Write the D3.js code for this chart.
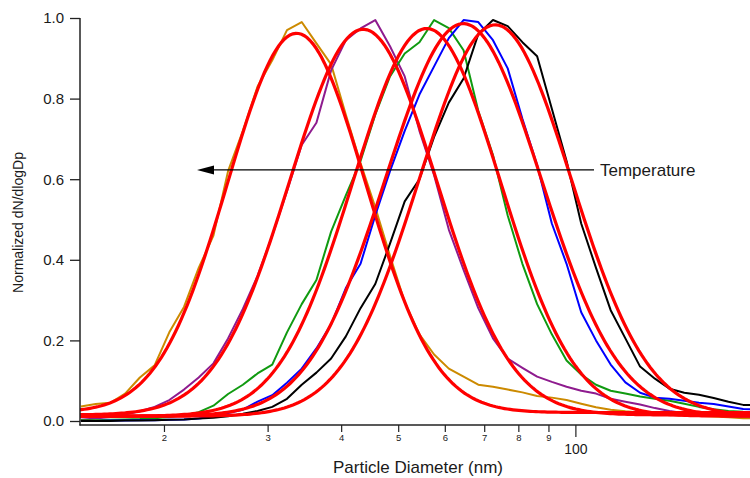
<!DOCTYPE html>
<html>
<head>
<meta charset="utf-8">
<script src="https://cdn.jsdelivr.net/npm/d3@7"></script>
<style>
  body { margin: 0; background: #fff; }
  text { font-family: "Liberation Sans", Arial, sans-serif; fill: #1a1a1a; }
</style>
</head>
<body>
<svg id="chart" width="750" height="478"></svg>
<script>
// size bins (nm), shared by all scans
const diameters = [14.45, 15.31, 16.22, 17.18, 18.20, 19.28, 20.42, 21.63, 22.91, 24.27,
  25.70, 27.23, 28.84, 30.55, 32.36, 34.28, 36.31, 38.46, 40.74, 43.15,
  45.71, 48.42, 51.29, 54.33, 57.54, 60.95, 64.57, 68.39, 72.44, 76.74,
  81.28, 86.10, 91.20, 96.61, 102.3, 108.4, 114.8, 121.6, 128.8, 136.5,
  144.5, 153.1, 162.2, 171.8, 182.0, 192.8, 204.2]

// measured, normalized dN/dlogDp
const scanOrange = [0.036, 0.042, 0.045, 0.068, 0.108, 0.138, 0.22, 0.283, 0.38, 0.46,
  0.62, 0.72, 0.83, 0.895, 0.97, 0.99, 0.937, 0.885, 0.76, 0.64,
  0.53, 0.41, 0.295, 0.215, 0.165, 0.13, 0.11, 0.09, 0.085, 0.078,
  0.071, 0.062, 0.058, 0.052, 0.043, 0.034, 0.028, 0.024, 0.021, 0.018,
  0.017, 0.015, 0.013, 0.011, 0.009, 0.007, 0.007]
const scanPurple = [0.003, 0.006, 0.010, 0.016, 0.024, 0.035, 0.052, 0.078, 0.108, 0.143,
  0.205, 0.278, 0.36, 0.46, 0.57, 0.685, 0.74, 0.87, 0.945, 0.974,
  0.995, 0.93, 0.855, 0.72, 0.61, 0.475, 0.375, 0.28, 0.205, 0.155,
  0.132, 0.11, 0.097, 0.085, 0.075, 0.068, 0.055, 0.048, 0.041, 0.032,
  0.025, 0.019, 0.015, 0.014, 0.012, 0.011, 0.011]
const scanGreen = [0.002, 0.002, 0.003, 0.004, 0.005, 0.007, 0.010, 0.014, 0.022, 0.038,
  0.067, 0.09, 0.118, 0.14, 0.22, 0.29, 0.35, 0.47, 0.56, 0.645,
  0.76, 0.855, 0.912, 0.94, 0.995, 0.975, 0.92, 0.77, 0.66, 0.51,
  0.39, 0.29, 0.215, 0.15, 0.115, 0.09, 0.075, 0.068, 0.061, 0.055,
  0.05, 0.043, 0.035, 0.029, 0.025, 0.023, 0.022]
const scanBlue = [0.0, 0.0, 0.001, 0.001, 0.002, 0.002, 0.003, 0.004, 0.006, 0.011,
  0.02, 0.028, 0.048, 0.064, 0.095, 0.13, 0.18, 0.24, 0.33, 0.39,
  0.51, 0.62, 0.72, 0.81, 0.88, 0.95, 0.995, 0.99, 0.945, 0.875,
  0.75, 0.635, 0.49, 0.39, 0.27, 0.2, 0.14, 0.096, 0.07, 0.058,
  0.055, 0.05, 0.045, 0.042, 0.036, 0.03, 0.028]
const scanBlack = [0.0, 0.0, 0.0, 0.001, 0.001, 0.002, 0.003, 0.004, 0.006, 0.008,
  0.012, 0.018, 0.025, 0.035, 0.055, 0.09, 0.12, 0.155, 0.21, 0.28,
  0.34, 0.44, 0.545, 0.6, 0.705, 0.79, 0.85, 0.96, 0.995, 0.98,
  0.94, 0.905, 0.775, 0.645, 0.49, 0.38, 0.275, 0.205, 0.135, 0.105,
  0.08, 0.07, 0.065, 0.057, 0.048, 0.04, 0.04]

const scanColors = ['#cc8a00', '#8e1b8e', '#109a10', '#0000ff', '#000000']

// lognormal fits: mode (nm), width (decades), height, offset
const fitMode = [33.6, 43.6, 55.9, 64.5, 73.1]
const fitWidth = [0.117, 0.125, 0.125, 0.132, 0.129]
const fitHeight = [0.941, 0.957, 0.962, 0.974, 0.971]
const fitBase = [0.021, 0.015, 0.012, 0.012, 0.012]

const xTicks = [20, 30, 40, 50, 60, 70, 80, 90, 100]
const yTicks = [0, 0.2, 0.4, 0.6, 0.8, 1.0]

const svg = d3.select('#chart')

const plotLeft = 80
const plotRight = 750
const plotTop = 18
const zeroY = 421
const axisY = 425

const x = d3.scaleLog().domain([14.4, 198]).range([plotLeft, plotRight])
const y = d3.scaleLinear().domain([0, 1]).range([zeroY, plotTop])

svg.append('defs')
  .append('clipPath')
  .attr('id', 'plot')
  .append('rect')
  .attr('x', plotLeft)
  .attr('y', 0)
  .attr('width', plotRight - plotLeft)
  .attr('height', axisY)

const line = d3.line()
  .x(d => x(d[0]))
  .y(d => y(d[1]))

const plot = svg.append('g').attr('clip-path', 'url(#plot)')

const scans = [scanOrange, scanPurple, scanGreen, scanBlue, scanBlack]

scans.forEach((s, i) => {
  plot.append('path')
    .datum(diameters.map((d, j) => [d, s[j]]))
    .attr('fill', 'none')
    .attr('stroke', scanColors[i])
    .attr('stroke-width', 2)
    .attr('stroke-linejoin', 'round')
    .attr('d', line)
})

// fitted curves
const fine = d3.range(0, 241).map(k => Math.pow(10, Math.log10(14) + k * (Math.log10(205) - Math.log10(14)) / 240))

fitMode.forEach((m, i) => {
  const pts = fine.map(d => {
    const z = (Math.log10(d) - Math.log10(m)) / fitWidth[i]
    return [d, fitBase[i] + fitHeight[i] * Math.exp(-0.5 * z * z)]
  })
  plot.append('path')
    .datum(pts)
    .attr('fill', 'none')
    .attr('stroke', '#ff0000')
    .attr('stroke-width', 3.2)
    .attr('d', line)
})

// axes
const yAxis = svg.append('g')
  .attr('transform', `translate(${plotLeft},0)`)
  .call(d3.axisLeft(y).tickValues(yTicks).tickFormat(d3.format('.1f')).tickSize(10).tickSizeOuter(0).tickPadding(6))
yAxis.select('.domain').remove()
yAxis.selectAll('text').style('font-size', '15px')
yAxis.selectAll('line').attr('stroke', '#222').attr('stroke-width', 1.3)

const xAxis = svg.append('g')
  .attr('transform', `translate(0,${axisY})`)
  .call(d3.axisBottom(x).tickValues(xTicks).tickFormat(d => d === 100 ? '100' : d / 10).tickSize(7).tickSizeOuter(0).tickPadding(2))
xAxis.select('.domain').remove()
xAxis.selectAll('line').attr('stroke', '#222').attr('stroke-width', 1.2)
xAxis.selectAll('text').style('font-size', '9.5px')
xAxis.selectAll('.tick').filter(d => d === 100).select('line').attr('y2', 12)
xAxis.selectAll('.tick').filter(d => d === 100).select('text')
  .attr('y', 19)
  .style('font-size', '14px')

svg.append('line')
  .attr('x1', plotLeft).attr('x2', plotLeft)
  .attr('y1', plotTop).attr('y2', axisY + 0.5)
  .attr('stroke', '#222').attr('stroke-width', 1.5)
svg.append('line')
  .attr('x1', plotLeft - 0.5).attr('x2', plotRight)
  .attr('y1', axisY).attr('y2', axisY)
  .attr('stroke', '#222').attr('stroke-width', 1.5)

// axis titles
svg.append('text')
  .attr('transform', `translate(23,${(plotTop + axisY) / 2 + 1}) rotate(-90)`)
  .attr('text-anchor', 'middle')
  .style('font-size', '14px')
  .text('Normalized dN/dlogDp')

svg.append('text')
  .attr('x', 418)
  .attr('y', 473)
  .attr('text-anchor', 'middle')
  .style('font-size', '17px')
  .text('Particle Diameter (nm)')

// temperature arrow
const arrowY = y(0.623)
svg.append('line')
  .attr('x1', 205).attr('x2', 594)
  .attr('y1', arrowY).attr('y2', arrowY)
  .attr('stroke', '#000').attr('stroke-width', 1.3)
svg.append('path')
  .attr('d', `M197,${arrowY}L214,${arrowY - 4.5}L214,${arrowY + 4.5}Z`)
  .attr('fill', '#000')
svg.append('text')
  .attr('x', 600)
  .attr('y', arrowY + 6)
  .style('font-size', '17px')
  .text('Temperature')
</script>
</body>
</html>
